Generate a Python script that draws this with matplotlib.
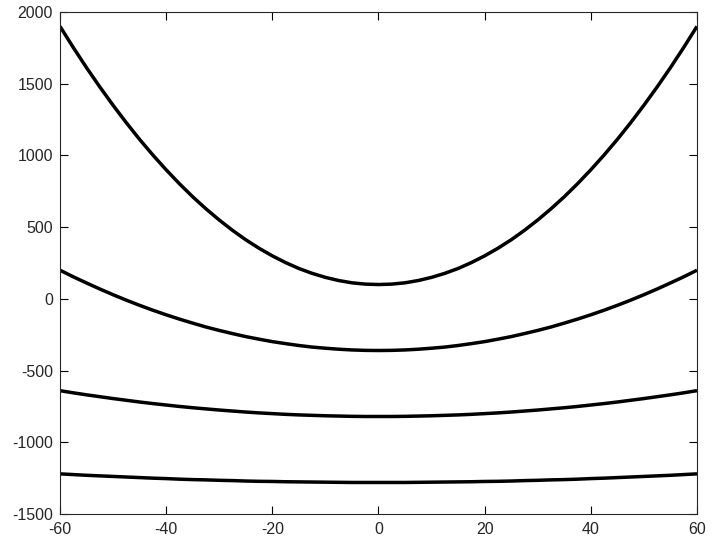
import matplotlib
matplotlib.use("Agg")
from matplotlib import pyplot as plt

# half of the sampled x positions (right side, 60 -> 0); curves are symmetric
x_half = [60, 57.5, 55, 52.5, 50, 47.5, 45, 42.5, 40, 37.5, 35, 32.5, 30,
          27.5, 25, 22.5, 20, 17.5, 15, 12.5, 10, 7.5, 5, 2.5, 0]

# values at x_half
half1 = [1900, 1753, 1612, 1478, 1350, 1228, 1112, 1003, 900, 803, 712, 628, 550,
         478, 412, 353, 300, 253, 212, 178, 150, 128, 112, 103, 100]
half2 = [200, 154, 111, 69, 29, -9, -45, -79, -111, -141, -169, -196, -220,
         -242, -263, -281, -298, -312, -325, -336, -344, -351, -356, -359, -360]
half3 = [-640, -655, -669, -682, -695, -707, -719, -730, -740, -750, -759, -767, -775,
         -782, -789, -795, -800, -805, -809, -812, -815, -817, -819, -820, -820]
half4 = [-1220, -1225, -1230, -1234, -1238, -1242, -1246, -1250, -1253, -1257, -1260,
         -1262, -1265, -1267, -1270, -1272, -1273, -1275, -1276, -1277, -1278, -1279,
         -1280, -1280, -1280]

x = [-v for v in x_half] + x_half[-2::-1]
curves = [h + h[-2::-1] for h in (half1, half2, half3, half4)]

xticks = [-60, -40, -20, 0, 20, 40, 60]
yticks = [-1500, -1000, -500, 0, 500, 1000, 1500, 2000]

plt.rcParams['font.family'] = ['Liberation Sans', 'DejaVu Sans']
plt.rcParams['axes.unicode_minus'] = False

fig = plt.figure(figsize=(7.27, 5.47), dpi=100)
ax = fig.add_axes([0.0825, 0.0603, 0.8762, 0.9177])
for y in curves:
    ax.plot(x, y, color='black', lw=2.5, solid_capstyle='butt')

ax.set_xlim(-60, 60)
ax.set_ylim(-1500, 2000)
ax.set_xticks(xticks)
ax.set_yticks(yticks)
ax.tick_params(direction='in', length=6, width=0.8, top=True, right=True,
               labelsize=11.5, labelcolor='#262626')
ax.tick_params(axis='x', pad=6)
ax.tick_params(axis='y', pad=5)
for s in ax.spines.values():
    s.set_linewidth(0.8)
    s.set_color('#262626')

fig.savefig('out.png', dpi=100)
